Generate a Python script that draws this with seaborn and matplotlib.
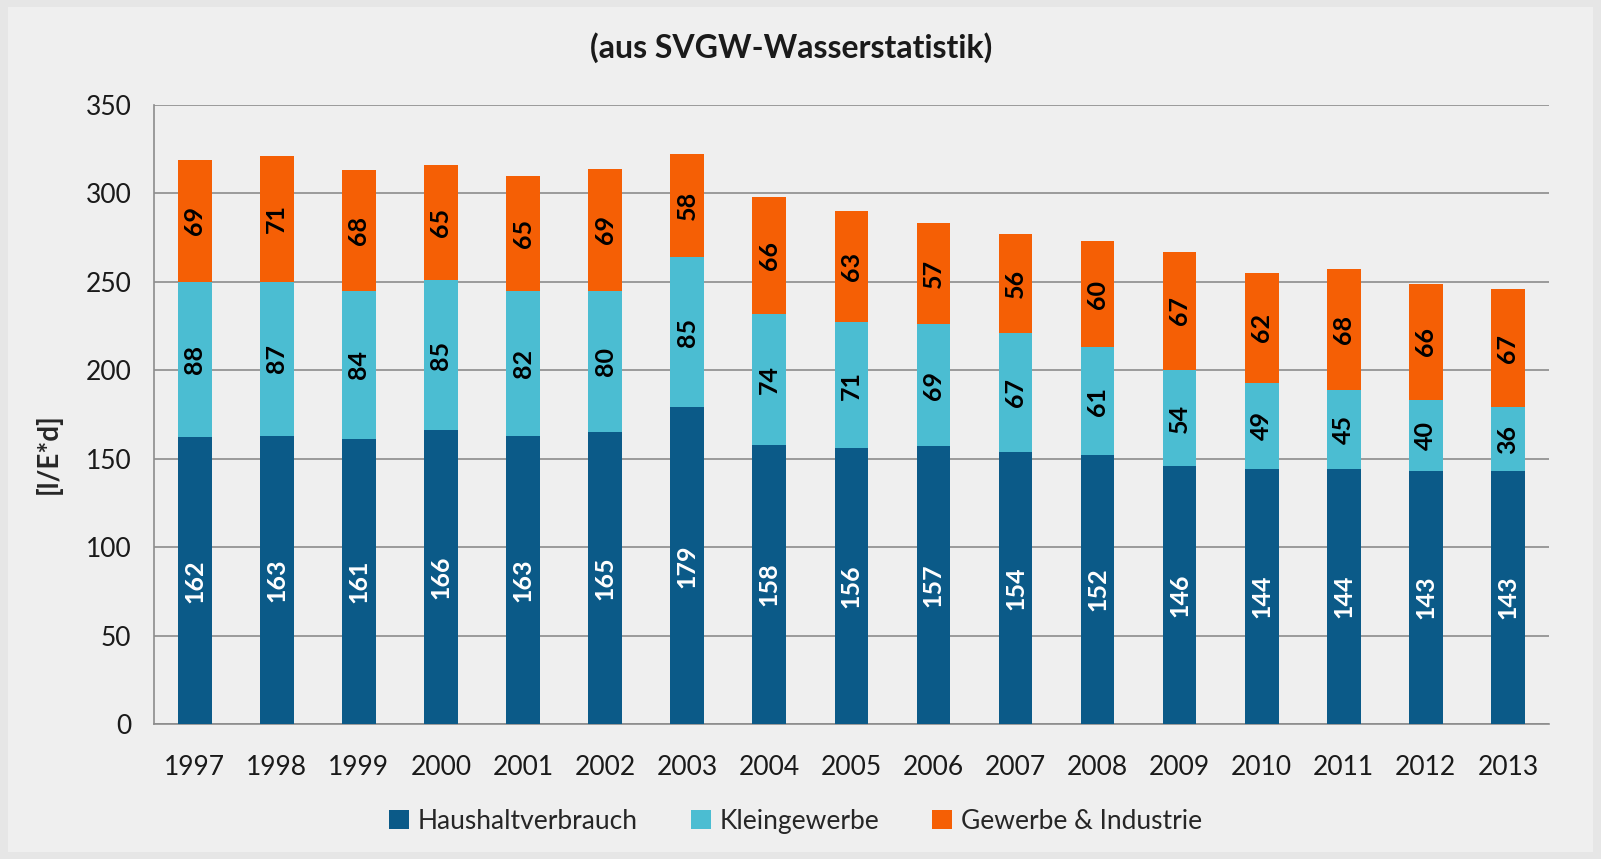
import seaborn as sns
import matplotlib.pyplot as plt
import pandas as pd
import numpy as np
from matplotlib.patches import Patch

years = [str(y) for y in range(1997, 2014)]
haushalt = [162, 163, 161, 166, 163, 165, 179, 158, 156, 157, 154, 152, 146, 144, 144, 143, 143]
kleingewerbe = [88, 87, 84, 85, 82, 80, 85, 74, 71, 69, 67, 61, 54, 49, 45, 40, 36]
industrie = [69, 71, 68, 65, 65, 69, 58, 66, 63, 57, 56, 60, 67, 62, 68, 66, 67]

series_names = ["Haushaltverbrauch", "Kleingewerbe", "Gewerbe & Industrie"]
colors = ["#0b5a88", "#4bbdd2", "#f55f05"]

df = pd.DataFrame({
    "Jahr": years,
    "Haushaltverbrauch": haushalt,
    "Kleingewerbe": kleingewerbe,
    "Gewerbe & Industrie": industrie,
})
df["cum1"] = df["Haushaltverbrauch"]
df["cum2"] = df["cum1"] + df["Kleingewerbe"]
df["cum3"] = df["cum2"] + df["Gewerbe & Industrie"]

bg = "#efefef"
sns.set_style("white")
plt.rcParams["font.family"] = ["Lato", "DejaVu Sans"]

fig = plt.figure(figsize=(16.01, 8.59), dpi=100, facecolor="#e6e6e6")
fig.patches.append(plt.Rectangle((0.005, 0.008), 0.99, 0.984, transform=fig.transFigure,
                                 facecolor=bg, edgecolor="none", zorder=-10))
ax = fig.add_axes([0.096, 0.157, 0.8715, 0.721])
ax.set_facecolor(bg)

w = 0.41
# stack by overlapping cumulative totals
sns.barplot(data=df, x="Jahr", y="cum3", color=colors[2], width=w, saturation=1, ax=ax,
            linewidth=0, zorder=3)
sns.barplot(data=df, x="Jahr", y="cum2", color=colors[1], width=w, saturation=1, ax=ax,
            linewidth=0, zorder=3)
sns.barplot(data=df, x="Jahr", y="cum1", color=colors[0], width=w, saturation=1, ax=ax,
            linewidth=0, zorder=3)

# segment labels
for i in range(len(years)):
    lows = [0, df["cum1"][i], df["cum2"][i]]
    vals = [haushalt[i], kleingewerbe[i], industrie[i]]
    for k in range(3):
        ax.text(i, lows[k] + vals[k] / 2, str(vals[k]), rotation=90, ha="center", va="center",
                fontsize=18, fontweight="bold", color="white" if k == 0 else "black", zorder=5)

ax.set_ylim(0, 350)
ax.set_yticks(range(0, 351, 50))
ax.set_xlim(-0.5, len(years) - 0.5)
ax.yaxis.grid(True, color="#8c8c8c", linewidth=1.2, zorder=0)
ax.set_axisbelow(True)
for s in ["top", "right"]:
    ax.spines[s].set_visible(False)
for s in ["left", "bottom"]:
    ax.spines[s].set_color("#8c8c8c")
    ax.spines[s].set_linewidth(1.2)

# tick marks between categories, labels at centers
ax.set_xticks(np.arange(-0.5, len(years), 1.0), minor=False)
ax.set_xticklabels([])
ax.set_xticks(np.arange(len(years)), minor=True)
ax.set_xticklabels(years, minor=True)
ax.tick_params(axis="x", which="major", length=8, color="#8c8c8c", width=1.2, direction="out")
ax.tick_params(axis="x", which="minor", length=0, labelsize=19, pad=22, labelcolor="#1a1a1a")
ax.tick_params(axis="y", length=8, color="#8c8c8c", width=1.2, labelsize=19, pad=8, labelcolor="#1a1a1a")

ax.set_xlabel("")
ax.set_ylabel("[l/E*d]", fontsize=20, fontweight="bold")
ax.yaxis.set_label_coords(-0.066, 0.436)

fig.text(0.494, 0.944, "(aus SVGW-Wasserstatistik)", ha="center", va="center",
         fontsize=23, fontweight="bold", color="#1a1a1a")

handles = [Patch(facecolor=c, edgecolor="none") for c in colors]
fig.legend(handles, series_names, loc="center", bbox_to_anchor=(0.497, 0.044), ncol=3,
           frameon=False, fontsize=19, handlelength=0.75, handleheight=0.75,
           handletextpad=0.35, columnspacing=2.0)

fig.savefig("out.png", dpi=100, facecolor=fig.get_facecolor())
plt.close(fig)
